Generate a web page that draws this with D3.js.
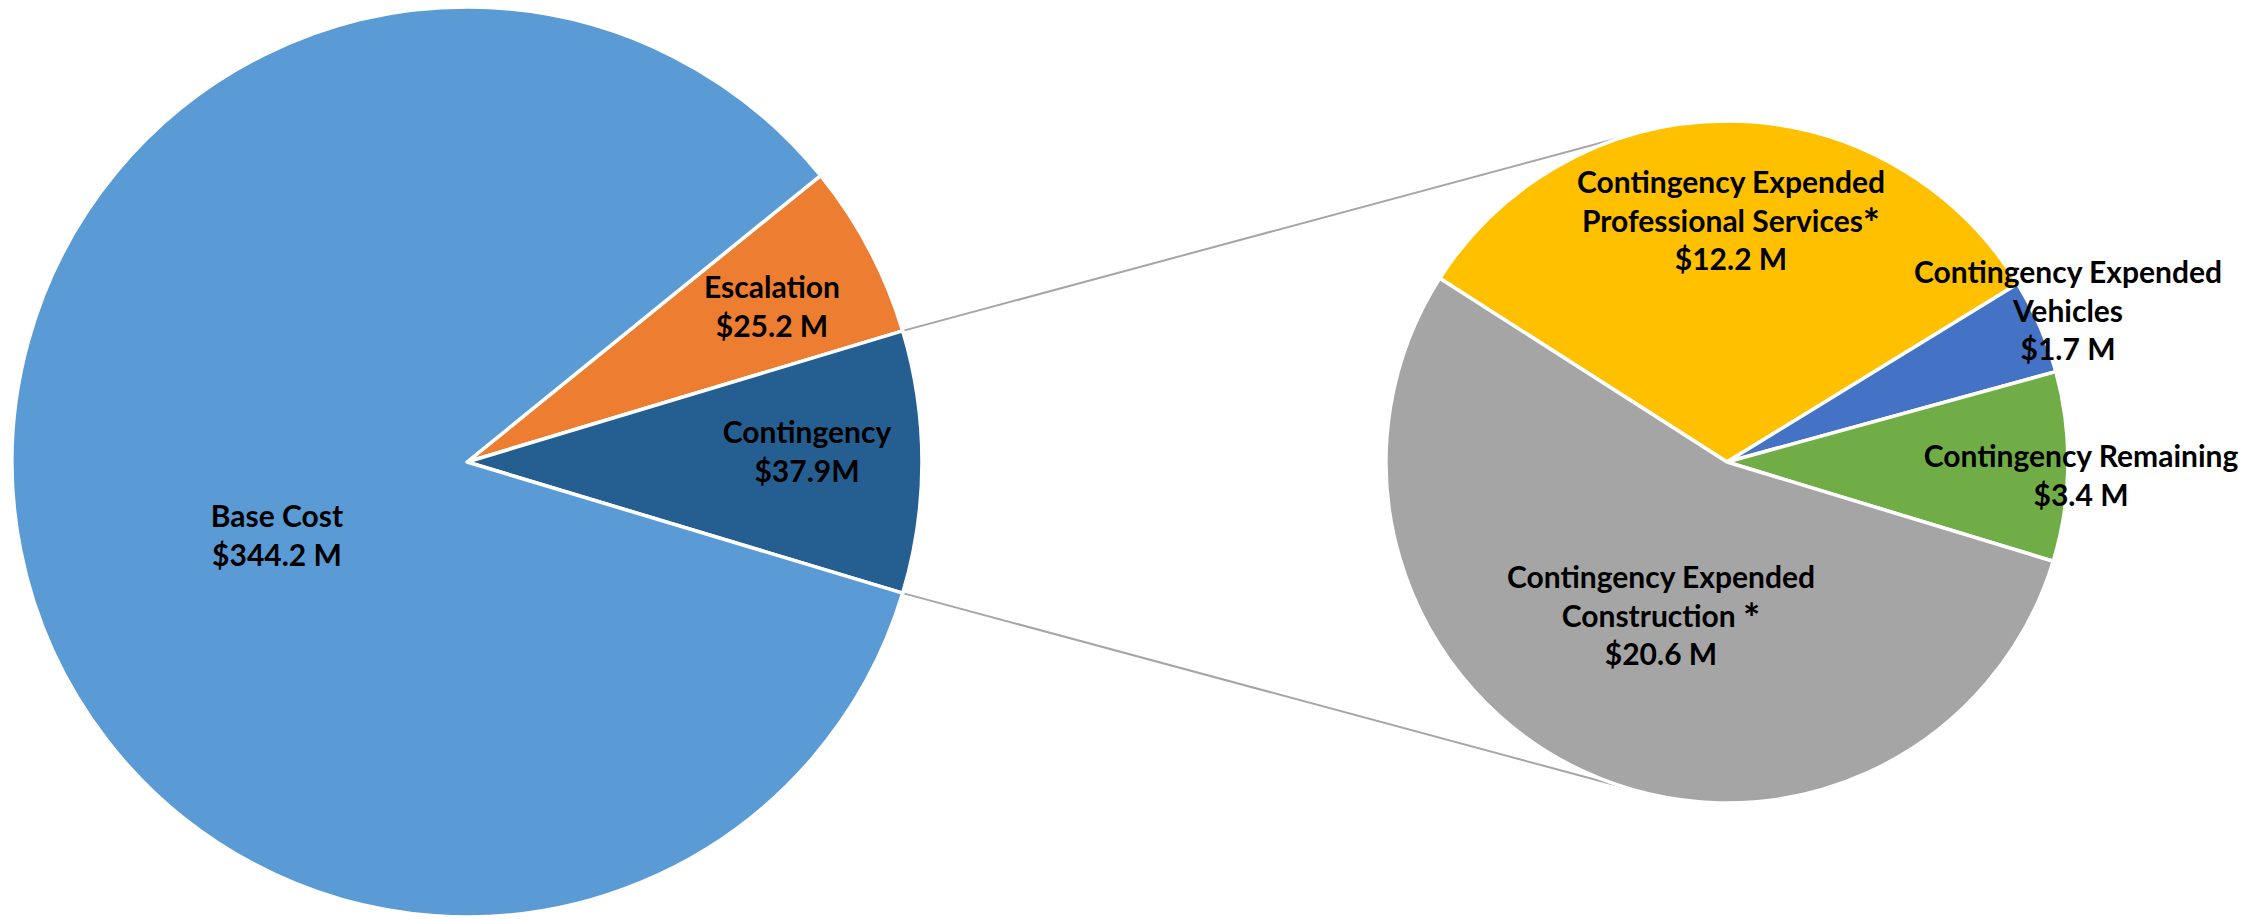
<!DOCTYPE html>
<html>
<head>
<meta charset="utf-8">
<script src="https://cdn.jsdelivr.net/npm/d3@7"></script>
<style>
  body { margin: 0; background: #fff; }
  svg { display: block; }
  .lbl { font-family: Lato, "Open Sans", sans-serif; font-weight: bold; fill: #000; }
</style>
</head>
<body>
<div id="main"></div>
<script>
// main pie, in drawing order (clockwise)
var mainCats = ["Escalation", "Contingency", "Base Cost"];
var mainValues = [25.2, 37.9, 344.2];
var mainText = [["Escalation", "$25.2 M"], ["Contingency", "$37.9M"], ["Base Cost", "$344.2 M"]];

// breakdown of contingency
var subCats = ["Contingency Expended Professional Services", "Contingency Expended Vehicles",
               "Contingency Remaining", "Contingency Expended Construction"];
var subValues = [12.2, 1.7, 3.4, 20.6];
var subText = [["Contingency Expended", "Professional Services*", "$12.2 M"],
               ["Contingency Expended", "Vehicles", "$1.7 M"],
               ["Contingency Remaining", "$3.4 M"],
               ["Contingency Expended", "Construction *", "$20.6 M"]];

var width = 2264, height = 919;

var mainColors = d3.scaleOrdinal().domain(mainCats).range(["#ED7D31", "#255E91", "#5B9BD5"]);
var subColors = d3.scaleOrdinal().domain(subCats).range(["#FFC000", "#4472C4", "#70AD47", "#A5A5A5"]);

// layout
var left = { cx: 467, cy: 462, r: 455 };
var right = { cx: 1727, cy: 462, r: 341 };
var mainLabelOff = [[305, -154], [340, -9], [-190, 75]];
var subLabelOff = [[4, -240], [341, -150], [354, 15], [-66, 155]];
var lineH = 38.5, capH = 19, fontSize = 30;

var svg = d3.select("#main").append("svg")
    .attr("width", width)
    .attr("height", height);

var rad = Math.PI / 180;
var total = d3.sum(mainValues);
var contIdx = mainCats.indexOf("Contingency");
var before = d3.sum(mainValues.slice(0, contIdx));
// contingency slice centered on the right side
var mainStart = Math.PI / 2 - 2 * Math.PI * (before + mainValues[contIdx] / 2) / total;

var mainPie = d3.pie().sort(null).startAngle(mainStart).endAngle(mainStart + 2 * Math.PI);
var subPie = d3.pie().sort(null).startAngle(-57.4 * rad).endAngle(-57.4 * rad + 2 * Math.PI);

var mainArcs = mainPie(mainValues);
var subArcs = subPie(subValues);

// series lines: from contingency outer corners to tangent points on the second pie
var ca = mainArcs[contIdx];
function corner(a) {
    return [left.cx + left.r * Math.sin(a), left.cy - left.r * Math.cos(a)];
}
function tangent(p, sign) {
    var dx = p[0] - right.cx, dy = p[1] - right.cy;
    var d = Math.sqrt(dx * dx + dy * dy);
    var th = Math.atan2(dy, dx) + sign * Math.acos(right.r / d);
    return [right.cx + right.r * Math.cos(th), right.cy + right.r * Math.sin(th)];
}
var p1 = corner(ca.startAngle), p2 = corner(ca.endAngle);
var lines = [[p1, tangent(p1, 1)], [p2, tangent(p2, -1)]];

svg.append("g")
    .selectAll("line")
    .data(lines)
    .enter().append("line")
    .attr("x1", d => d[0][0]).attr("y1", d => d[0][1])
    .attr("x2", d => d[1][0]).attr("y2", d => d[1][1])
    .attr("stroke", "#A6A6A6")
    .attr("stroke-width", 2);

function drawPie(arcs, pos, cats, colors, text, offs) {
    var arc = d3.arc().innerRadius(0).outerRadius(pos.r);
    var g = svg.append("g").attr("transform", "translate(" + pos.cx + "," + pos.cy + ")");
    g.selectAll("path")
        .data(arcs)
        .enter().append("path")
        .attr("d", arc)
        .attr("fill", (d, i) => colors(cats[i]))
        .attr("stroke", "#fff")
        .attr("stroke-width", 3.5)
        .attr("stroke-linejoin", "round");

    var t = g.selectAll("text.lbl")
        .data(arcs)
        .enter().append("text")
        .attr("class", "lbl")
        .attr("font-size", fontSize)
        .attr("text-anchor", "middle");
    t.each(function (d, i) {
        var lns = text[i];
        var x = offs[i][0];
        var y0 = offs[i][1] + capH / 2 - (lns.length - 1) * lineH / 2;
        var sel = d3.select(this);
        lns.forEach((s, k) => {
            var star = s.endsWith("*");
            var ts = sel.append("tspan").attr("x", x).attr("y", y0 + k * lineH)
                .text(star ? s.slice(0, -1) : s);
            if (star) {
                // bigger footnote star, sitting mid-height like the original
                sel.append("tspan").attr("dy", 6).attr("font-size", fontSize * 1.35).text("*");
            }
        });
    });
}

drawPie(mainArcs, left, mainCats, mainColors, mainText, mainLabelOff);
drawPie(subArcs, right, subCats, subColors, subText, subLabelOff);
</script>
</body>
</html>
